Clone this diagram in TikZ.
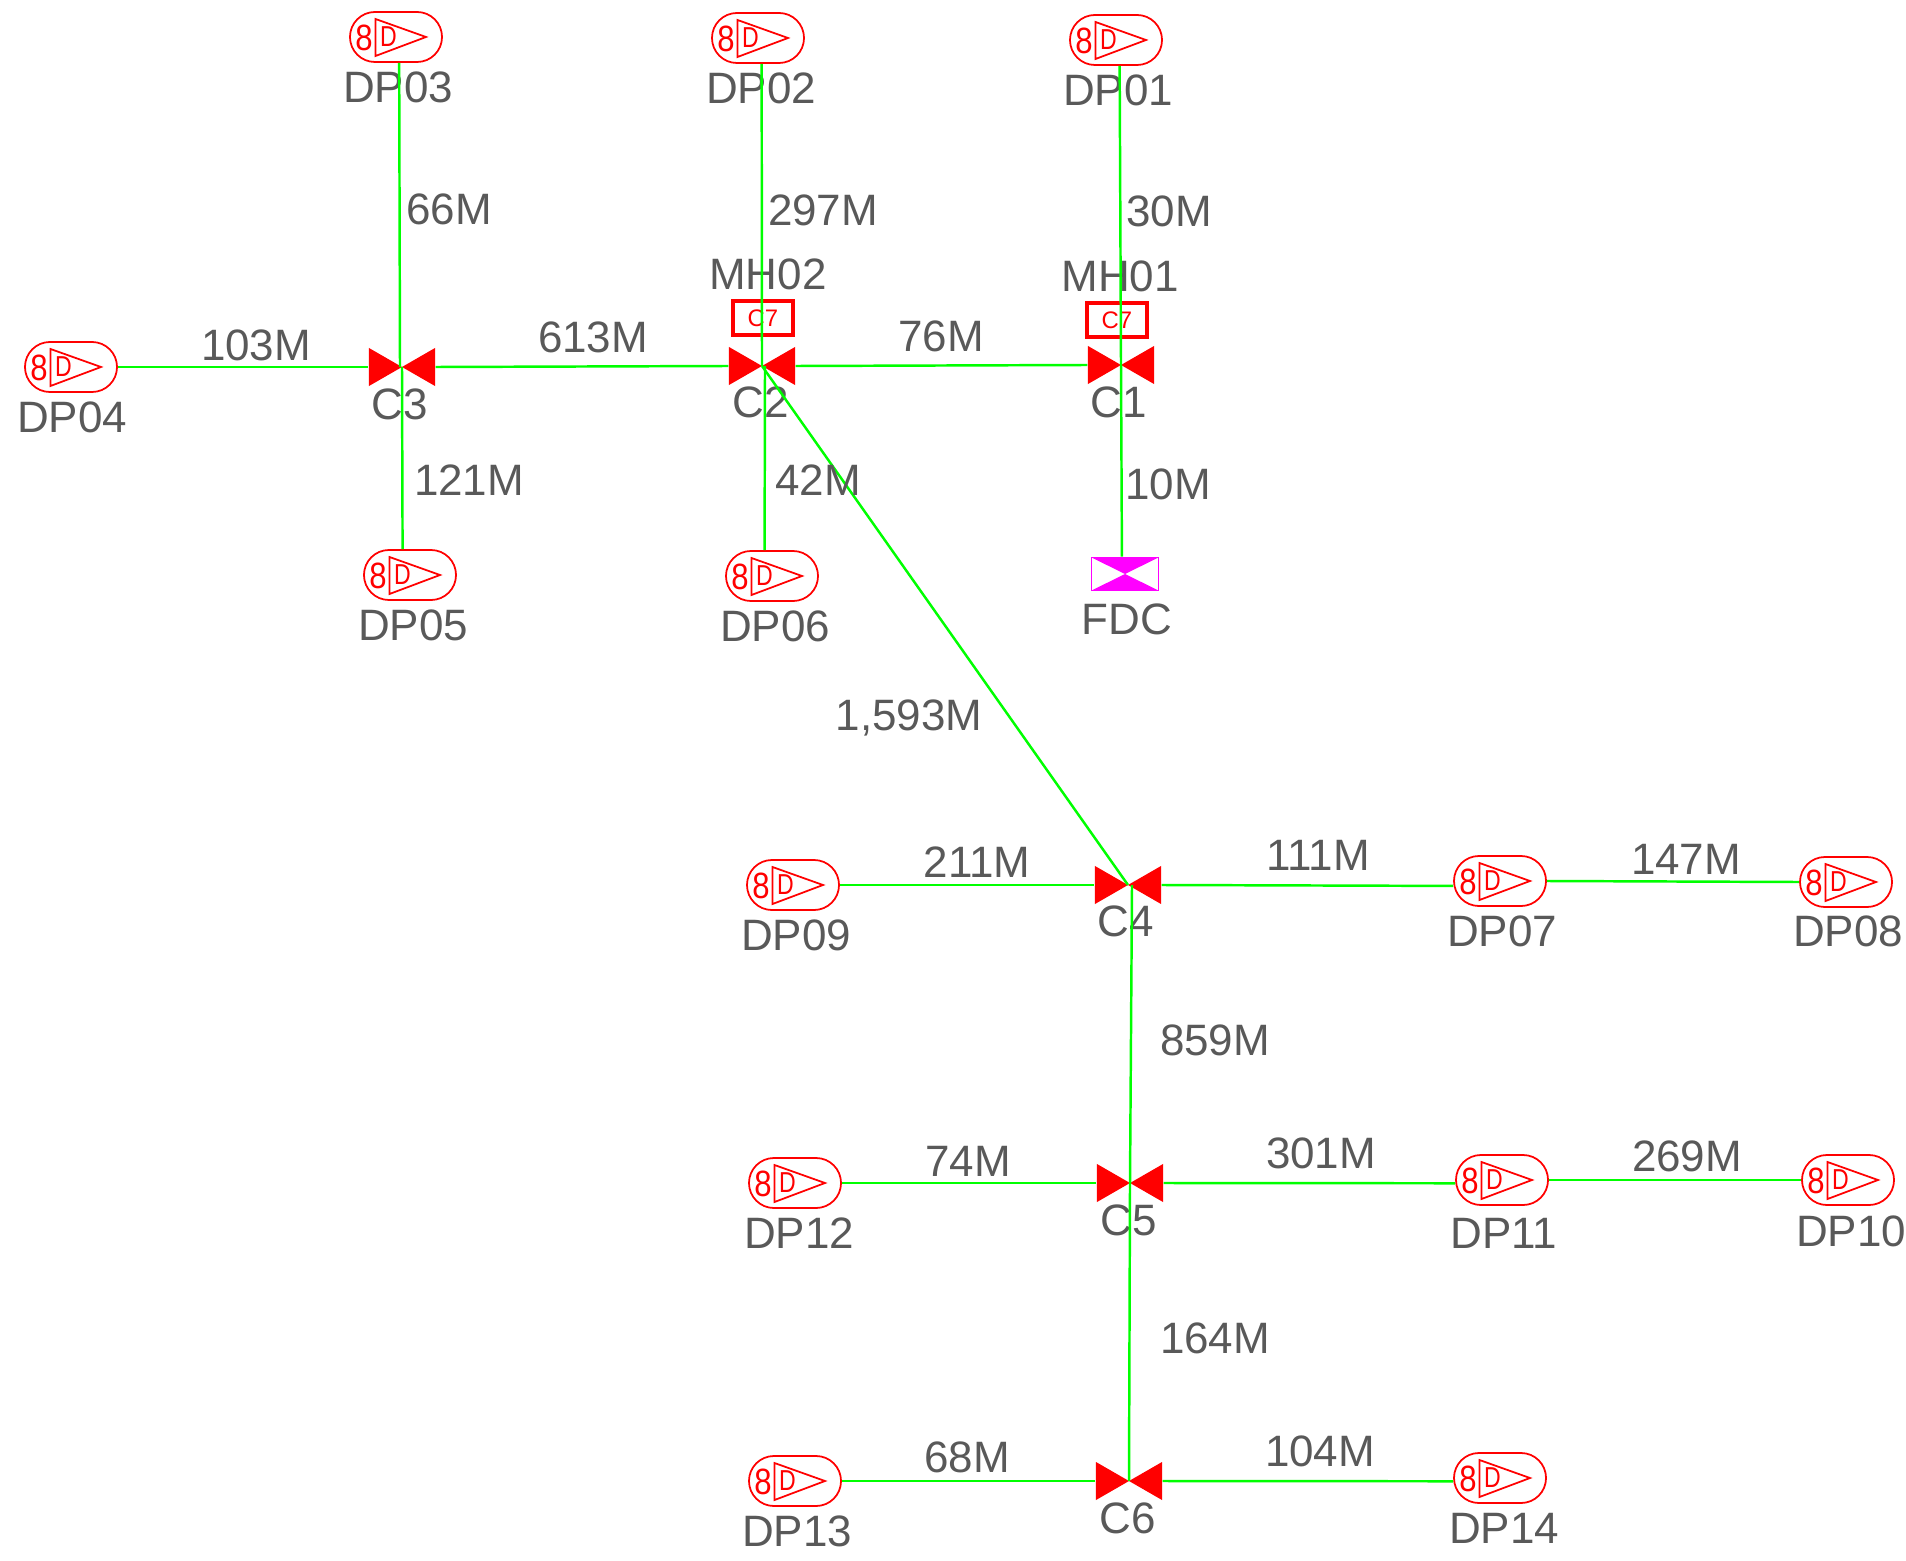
\documentclass[tikz,border=0pt]{standalone}
\usepackage{fontspec}
\setmainfont{Liberation Sans}
\definecolor{labelgray}{HTML}{595959}
\definecolor{pipegreen}{HTML}{00FF00}
\definecolor{fdcmagenta}{HTML}{FF00FF}
\tikzset{
    pipe/.style={draw=pipegreen,line width=0.7pt},
    txt/.style={text=labelgray,font=\fontsize{12.5}{15}\selectfont,inner sep=0pt,xshift=0.01cm},
    dpbox/.style={draw=red,line width=0.5pt,rounded corners=0.25cm,
        minimum width=0.92cm,minimum height=0.5cm,inner sep=0pt},
    valve/.style={minimum width=0.66cm,minimum height=0.38cm,inner sep=0pt,
        path picture={\fill[red] (path picture bounding box.north west)
            -- (path picture bounding box.south east)
            -- (path picture bounding box.north east)
            -- (path picture bounding box.south west) -- cycle;}},
    fdcbox/.style={draw=fdcmagenta,line width=0.5pt,minimum width=0.67cm,minimum height=0.33cm,inner sep=0pt,
        path picture={\fill[fdcmagenta] (path picture bounding box.north west)
            -- (path picture bounding box.south east)
            -- (path picture bounding box.south west)
            -- (path picture bounding box.north east) -- cycle;}},
    mhbox/.style={draw=red,line width=1.2pt,minimum width=0.6cm,minimum height=0.34cm,inner sep=0pt,
        text=red,font=\fontsize{6.8}{8}\selectfont},
    dpsym/.pic={
        \draw[red,line width=0.5pt] (-20.5,-18) -- (30,0) -- (-20.5,19) -- cycle;
        \node[text=red,font=\fontsize{10.4}{12}\selectfont,inner sep=0pt,xscale=0.85,transform shape] (-eight) at (-32,1) {8};
        \node[text=red,font=\fontsize{8.2}{10}\selectfont,inner sep=0pt,xscale=0.8,transform shape] (-letter) at (-7.5,0) {D};
    }
}
\begin{document}
\begin{tikzpicture}[x=0.01cm,y=-0.01cm]
\useasboundingbox (0,0) rectangle (1906,1561);

% drop points
\node[dpbox] (dp01) at (1116,40) {}; \pic (s01) at (dp01) {dpsym}; \node[txt] (t01) at (1117,90) {DP01};
\node[dpbox] (dp02) at (758,38) {}; \pic (s02) at (dp02) {dpsym}; \node[txt] (t02) at (760,88) {DP02};
\node[dpbox] (dp03) at (396,37) {}; \pic (s03) at (dp03) {dpsym}; \node[txt] (t03) at (397,87) {DP03};
\node[dpbox] (dp04) at (71,367) {}; \pic (s04) at (dp04) {dpsym}; \node[txt] (t04) at (71,417) {DP04};
\node[dpbox] (dp05) at (410,575) {}; \pic (s05) at (dp05) {dpsym}; \node[txt] (t05) at (412,625) {DP05};
\node[dpbox] (dp06) at (772,576) {}; \pic (s06) at (dp06) {dpsym}; \node[txt] (t06) at (774,626) {DP06};
\node[dpbox] (dp07) at (1500,881) {}; \pic (s07) at (dp07) {dpsym}; \node[txt] (t07) at (1501,931) {DP07};
\node[dpbox] (dp08) at (1846,882) {}; \pic (s08) at (dp08) {dpsym}; \node[txt] (t08) at (1847,931) {DP08};
\node[dpbox] (dp09) at (793,885) {}; \pic (s09) at (dp09) {dpsym}; \node[txt] (t09) at (795,935) {DP09};
\node[dpbox] (dp10) at (1848,1180) {}; \pic (s10) at (dp10) {dpsym}; \node[txt] (t10) at (1850,1231) {DP10};
\node[dpbox] (dp11) at (1502,1180) {}; \pic (s11) at (dp11) {dpsym}; \node[txt] (t11) at (1503,1233) {DP11};
\node[dpbox] (dp12) at (795,1183) {}; \pic (s12) at (dp12) {dpsym}; \node[txt] (t12) at (798,1233) {DP12};
\node[dpbox] (dp13) at (795,1481) {}; \pic (s13) at (dp13) {dpsym}; \node[txt] (t13) at (796,1531) {DP13};
\node[dpbox] (dp14) at (1500,1478) {}; \pic (s14) at (dp14) {dpsym}; \node[txt] (t14) at (1503,1528) {DP14};

% closures
\node[valve] (c1) at (1121,365) {}; \node[txt] (tc1) at (1118,402) {C1};
\node[valve] (c2) at (762,366) {}; \node[txt] (tc2) at (760,402) {C2};
\node[valve] (c3) at (402,367) {}; \node[txt] (tc3) at (399,404) {C3};
\node[valve] (c4) at (1128,885) {}; \node[txt] (tc4) at (1125,921) {C4};
\node[valve] (c5) at (1130,1183) {}; \node[txt] (tc5) at (1128,1220) {C5};
\node[valve] (c6) at (1129,1481) {}; \node[txt] (tc6) at (1127,1518) {C6};

% manholes and fdc
\node[mhbox] (mh1) at (1117,320) {C7}; \node[txt] (tmh1) at (1119,276) {MH01};
\node[mhbox] (mh2) at (763,318) {C7}; \node[txt] (tmh2) at (767,274) {MH02};
\node[fdcbox] (fdc) at (1125,574) {}; \node[txt] (tfdc) at (1126,619) {FDC};

% cables
\draw[pipe] (dp03.-83) -- ([xshift=-0.02cm]c3.center);
\draw[pipe] (c3.center) -- (dp05.106);
\draw[pipe] (dp04.east) -- (c3.west);
\draw[pipe] (c3.east) -- (c2.west);
\draw[pipe] (dp02.-82) -- (c2.center);
\draw[pipe] ([xshift=0.03cm]c2.center) -- (dp06.106);
\draw[pipe] (c2.east) -- (c1.west);
\draw[pipe] (dp01.-82) -- (c1.center);
\draw[pipe] (c1.center) -- (fdc.100);
\draw[pipe] (c2.center) -- (c4.center);
\draw[pipe] (dp09.east) -- (c4.west);
\draw[pipe] (c4.east) -- (dp07.186);
\draw[pipe] (dp07.east) -- (dp08.west);
\draw[pipe] ([xshift=0.04cm]c4.center) -- (c5.center);
\draw[pipe] (dp12.east) -- (c5.west);
\draw[pipe] (c5.east) -- (dp11.184);
\draw[pipe] (dp11.east) -- (dp10.west);
\draw[pipe] (c5.center) -- (c6.center);
\draw[pipe] (dp13.east) -- (c6.west);
\draw[pipe] (c6.east) -- (dp14.184);

% lengths
\node[txt] (l66) at (448,209) {66M};
\node[txt] (l297) at (822,210) {297M};
\node[txt] (l30) at (1168,211) {30M};
\node[txt] (l103) at (255,345) {103M};
\node[txt] (l613) at (592,337) {613M};
\node[txt] (l76) at (940,336) {76M};
\node[txt] (l121) at (468,480) {121M};
\node[txt] (l42) at (817,480) {42M};
\node[txt] (l10) at (1167,484) {10M};
\node[txt] (l1593) at (908,718) {1,593M};
\node[txt] (l211) at (976,862) {211M};
\node[txt] (l111) at (1317,855) {111M};
\node[txt] (l147) at (1685,859) {147M};
\node[txt] (l859) at (1214,1040) {859M};
\node[txt] (l74) at (967,1161) {74M};
\node[txt] (l301) at (1320,1153) {301M};
\node[txt] (l269) at (1686,1156) {269M};
\node[txt] (l164) at (1214,1338) {164M};
\node[txt] (l68) at (966,1457) {68M};
\node[txt] (l104) at (1319,1451) {104M};

\end{tikzpicture}
\end{document}
